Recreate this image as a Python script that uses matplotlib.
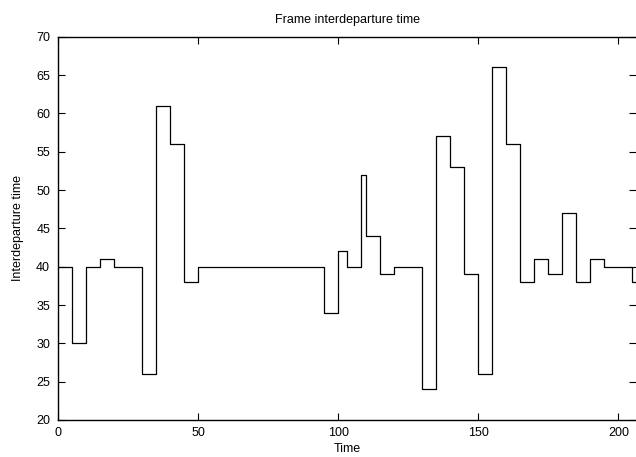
import matplotlib
matplotlib.use('Agg')
import matplotlib.pyplot as plt

# Sample times and interdeparture values (step plot)
times = [0, 5, 10, 15, 20, 25, 30, 35, 40, 45, 50, 95, 100, 103, 108, 110,
         115, 120, 130, 135, 140, 145, 150, 155, 160, 165, 170, 175, 180,
         185, 190, 195, 205, 210]
values = [40, 30, 40, 41, 40, 40, 26, 61, 56, 38, 40, 34, 42, 40, 52, 44,
          39, 40, 24, 57, 53, 39, 26, 66, 56, 38, 41, 39, 47,
          38, 41, 40, 38, 38]

x_ticks = [0, 50, 100, 150, 200]
y_ticks = list(range(20, 71, 5))

plt.rcParams['font.family'] = ['Liberation Sans', 'DejaVu Sans']

fig = plt.figure(figsize=(6.36, 4.57), dpi=100)
ax = fig.add_axes([58.5 / 636, 1 - 420 / 457, 1 - 58.5 / 636,
                   (420 - 36.7) / 457])

ax.step(times, values, where='post', color='black', lw=0.9)

ax.set_xlim(0, 206.3)
ax.set_ylim(20, 70)
ax.set_xticks(x_ticks)
ax.set_yticks(y_ticks)
ax.tick_params(direction='in', length=5, width=0.8, labelsize=9,
               top=True, right=True, colors='black')
ax.tick_params(axis='y', pad=6)
ax.tick_params(axis='x', pad=5)
for s in ax.spines.values():
    s.set_linewidth(1.0)
# the reference image is cut just before its right border
ax.spines['right'].set_visible(False)

ax.set_title('Frame interdeparture time', fontsize=9, pad=10)
ax.set_xlabel('Time', fontsize=9, labelpad=3)
ax.set_ylabel('Interdeparture time', fontsize=9, labelpad=9)

fig.savefig('out.png', dpi=100)
